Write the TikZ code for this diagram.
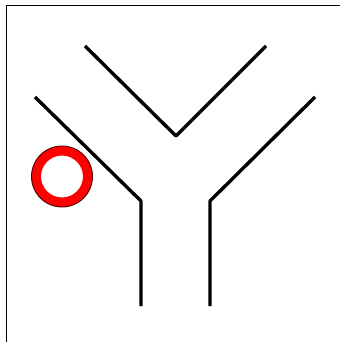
\documentclass[tikz,border=0pt]{standalone}
\begin{document}
\begin{tikzpicture}[x=1pt,y=-1pt,
  wall/.style={line width=3.4pt,black,line join=bevel},
  frame/.style={line width=1.2pt,black},
  ring/.style={fill=red,even odd rule}]
\useasboundingbox (0,0) rectangle (340,342);
\fill[white] (0,0) rectangle (340,342);
\draw[frame] (6.5,342) -- (6.5,5.5) -- (340,5.5);
% coordinates
\coordinate (l1) at (35,97);
\coordinate (l2) at (141,201);
\coordinate (l3) at (141,306);
\coordinate (v1) at (85,46);
\coordinate (v2) at (176,136);
\coordinate (v3) at (266,46);
\coordinate (r1) at (315,97);
\coordinate (r2) at (210,201);
\coordinate (r3) at (210,306);
\coordinate (c) at (62,176.5);
\draw[wall] (l1) -- (l2) -- (l3);
\draw[wall] (v1) -- (v2) -- (v3);
\draw[wall] (r1) -- (r2) -- (r3);
\fill[ring] (c) circle (30.5) (c) circle (21);
\draw[line width=0.9pt,black!70!red] (c) circle (30.5);
\end{tikzpicture}
\end{document}
